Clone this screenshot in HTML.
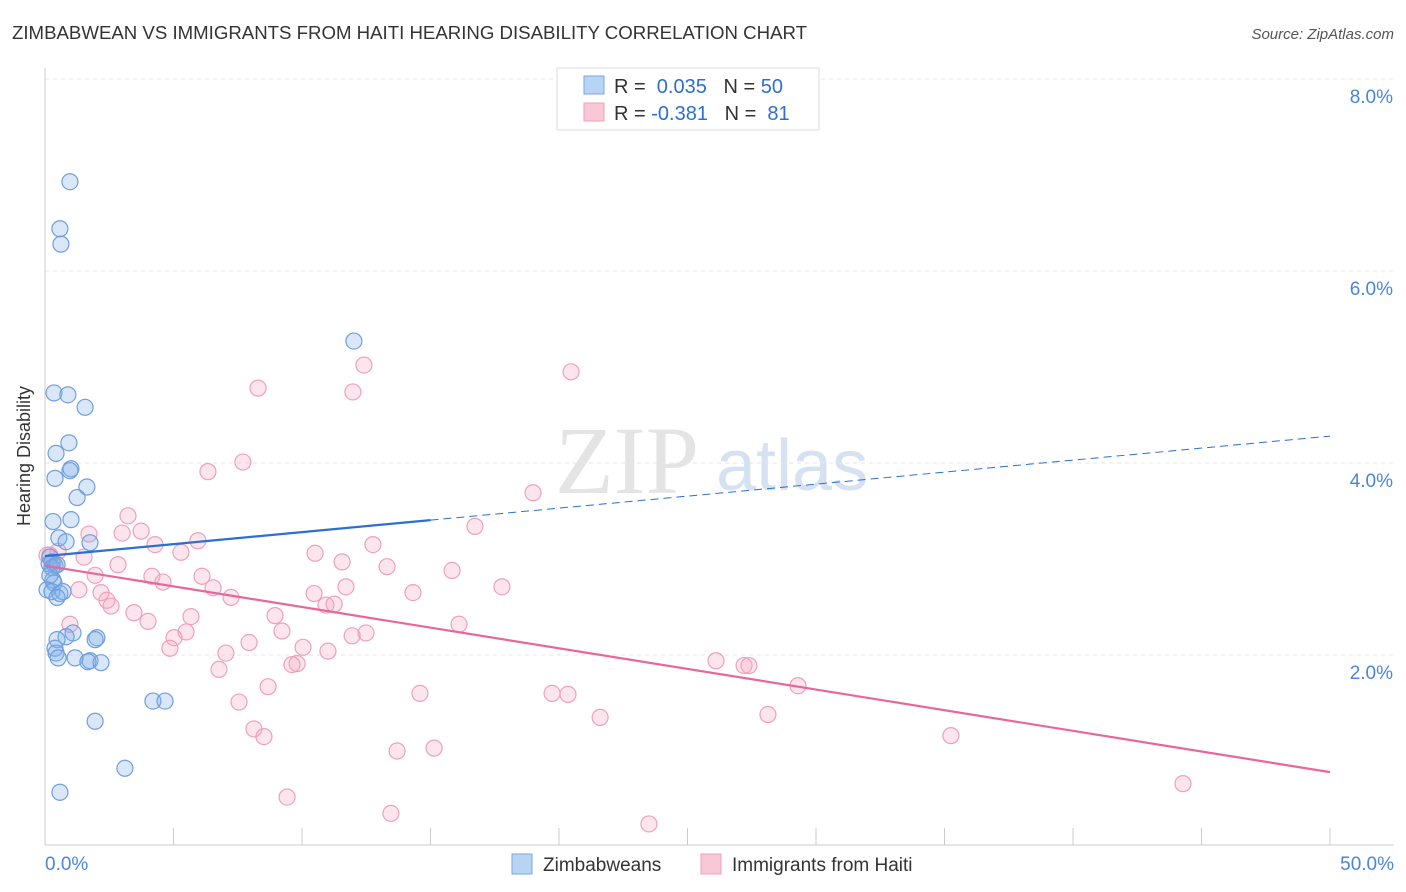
<!DOCTYPE html>
<html><head><meta charset="utf-8"><style>
body{margin:0;background:#fff;font-family:"Liberation Sans",sans-serif}
svg{display:block}
</style></head><body>
<svg width="1406" height="892" id="chart">
<text x="12" y="39" font-size="18" fill="#333" textLength="795" lengthAdjust="spacingAndGlyphs">ZIMBABWEAN VS IMMIGRANTS FROM HAITI HEARING DISABILITY CORRELATION CHART</text>
<text x="1394" y="39" font-size="15" fill="#555" font-style="italic" text-anchor="end">Source: ZipAtlas.com</text>
<text x="555" y="493" font-size="96" fill="#e4e4e4" font-family="Liberation Serif">ZIP</text>
<text x="716" y="490" font-size="72" fill="#d6e2f2">atlas</text>
<g id="grid"></g>
<line x1="45" y1="68" x2="45" y2="845" stroke="#ccc"/>
<line x1="45" y1="845" x2="1394" y2="845" stroke="#ccc"/>
<text x="30" y="456" font-size="18" fill="#333" transform="rotate(-90 30 456)" text-anchor="middle">Hearing Disability</text>
<g id="ticks"></g>
<g id="pts"></g>
<g id="trend"></g>
<g>
<rect x="557" y="68" width="262" height="62" fill="#fff" stroke="#ddd"/>
<rect x="584" y="76" width="20" height="18" fill="#b8d4f4" stroke="#7aa7e0"/>
<rect x="584" y="103" width="20" height="18" fill="#f9c8d7" stroke="#eea0bb"/>
<text x="614" y="93" font-size="20" fill="#333">R = <tspan fill="#2d6fd0">&#160;0.035</tspan>&#160;&#160;&#160;N = <tspan fill="#2d6fd0">50</tspan></text>
<text x="614" y="120" font-size="20" fill="#333">R = <tspan fill="#2d6fd0">-0.381</tspan>&#160;&#160;&#160;N = <tspan fill="#2d6fd0">&#160;81</tspan></text>
</g>
<g>
<rect x="512" y="854" width="20" height="20" fill="#b8d4f4" stroke="#7aa7e0"/>
<text x="543" y="871" font-size="19" fill="#333">Zimbabweans</text>
<rect x="701" y="854" width="20" height="20" fill="#f9c8d7" stroke="#eea0bb"/>
<text x="732" y="871" font-size="19" fill="#333">Immigrants from Haiti</text>
</g>
</svg>
<script>
const blueX=[0.97,0.58,0.62,12.02,0.35,0.89,1.56,0.93,0.43,1.01,0.97,0.39,1.63,1.25,1.01,0.31,0.54,0.82,1.75,0.19,0.27,0.39,0.16,0.31,0.35,0.08,0.27,0.58,0.70,0.47,1.09,0.82,0.47,2.02,1.95,0.39,0.43,0.51,1.17,1.75,1.67,2.18,4.20,4.67,1.95,3.11,0.58,0.27,0.19,0.47];
const blueY=[6.93,6.44,6.28,5.27,4.73,4.71,4.58,4.21,4.10,3.94,3.92,3.84,3.75,3.64,3.41,3.39,3.22,3.18,3.17,3.02,2.97,2.93,2.95,2.78,2.75,2.68,2.66,2.64,2.66,2.60,2.23,2.19,2.16,2.18,2.16,2.07,2.02,1.97,1.97,1.94,1.93,1.92,1.52,1.52,1.31,0.82,0.57,2.91,2.83,2.94];
const pinkX=[20.47,12.41,8.29,11.98,7.70,6.34,18.99,16.73,3.23,1.71,3.00,3.74,5.95,12.76,4.28,0.51,0.19,1.52,5.29,10.51,11.56,13.31,2.84,15.84,1.95,4.16,6.11,4.59,11.71,17.78,1.32,6.54,2.18,10.47,14.32,7.24,2.41,2.57,10.93,11.25,8.95,5.68,3.46,4.01,0.97,16.11,9.22,5.49,12.49,11.95,5.02,7.94,10.04,4.86,11.01,7.04,26.11,27.20,27.39,9.81,9.61,6.77,29.30,8.68,14.59,19.73,20.35,7.55,21.60,28.13,8.13,8.52,35.25,15.14,13.70,9.42,44.28,13.46,23.50,0.31,0.08];
const pinkY=[4.95,5.02,4.78,4.74,4.01,3.91,3.69,3.34,3.45,3.26,3.27,3.29,3.19,3.15,3.15,3.08,3.04,3.02,3.07,3.06,2.97,2.92,2.94,2.88,2.83,2.82,2.82,2.76,2.71,2.71,2.68,2.70,2.65,2.64,2.65,2.60,2.57,2.51,2.52,2.53,2.41,2.40,2.44,2.35,2.32,2.32,2.25,2.24,2.23,2.20,2.18,2.13,2.08,2.07,2.04,2.02,1.94,1.89,1.89,1.91,1.90,1.85,1.68,1.67,1.60,1.60,1.59,1.51,1.35,1.38,1.23,1.15,1.16,1.03,1.00,0.52,0.66,0.35,0.24,2.96,3.04];
const yTicks=[2,4,6,8];
const yTickLabels=["2.0%","4.0%","6.0%","8.0%"];
const xTicks=[0,5,10,15,20,25,30,35,40,45,50];
const blueTrend=[3.03,4.28];
const pinkTrend=[2.93,0.78];
const NS="http://www.w3.org/2000/svg";
const sx=v=>45+v*25.7, sy=v=>847-v*96;
function mk(tag,attrs,parent){const e=document.createElementNS(NS,tag);for(const k in attrs)e.setAttribute(k,attrs[k]);document.getElementById(parent).appendChild(e);return e;}
yTicks.forEach((t,i)=>{
 const l=mk('line',{x1:45,x2:1394,y1:sy(t),y2:sy(t),stroke:'#e6e6e6','stroke-dasharray':'4,4'},'grid');
 
 
 const tx=mk('text',{x:1393,y:sy(t)+24,'font-size':19,fill:'#4a86d8','text-anchor':'end'},'ticks');
 tx.textContent=yTickLabels[i];
 
 
});
xTicks.forEach(t=>{
 const l=mk('line',{x1:sx(t),x2:sx(t),y1:828,y2:845,stroke:'#ccc'},'ticks');
 
 
});
[[0,"0.0%",45,'start'],[50,"50.0%",1394,'end']].forEach(a=>{
 const tx=mk('text',{x:a[2],y:870,'font-size':19,fill:'#4a86d8','text-anchor':a[3]},'ticks');
 tx.textContent=a[1];
 
 
});
pinkX.forEach((x,i)=>{
 const c=mk('circle',{cx:sx(x),cy:sy(pinkY[i]),r:8,fill:'rgba(244,170,196,0.3)',stroke:'#eea0bb','stroke-width':1.2},'pts');
 
 
});
blueX.forEach((x,i)=>{
 const c=mk('circle',{cx:sx(x),cy:sy(blueY[i]),r:8,fill:'rgba(130,175,235,0.3)',stroke:'#6f9fdc','stroke-width':1.2},'pts');
 
 
});
const by=x=>blueTrend[0]+(blueTrend[1]-blueTrend[0])*x/50;
let l1=mk('line',{x1:sx(0),y1:sy(by(0)),x2:sx(15),y2:sy(by(15)),stroke:'#2a6fd4','stroke-width':2.2},'trend');


let l2=mk('line',{x1:sx(15),y1:sy(by(15)),x2:sx(50),y2:sy(by(50)),stroke:'#2a6fd4','stroke-width':1,'stroke-dasharray':'8,5'},'trend');


let l3=mk('line',{x1:sx(0),y1:sy(pinkTrend[0]),x2:sx(50),y2:sy(pinkTrend[1]),stroke:'#e8679a','stroke-width':2.2},'trend');


</script>
</body></html>
